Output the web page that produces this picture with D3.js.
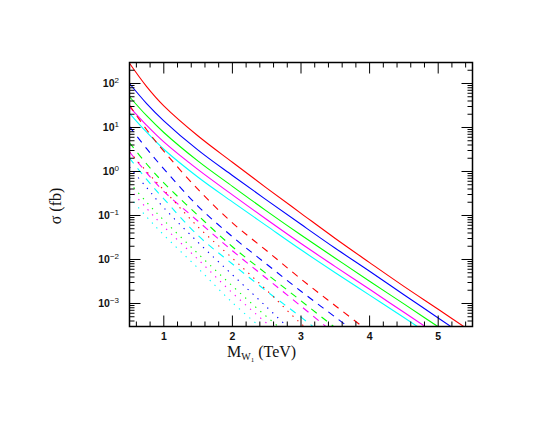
<!DOCTYPE html>
<html><head><meta charset="utf-8">
<script src="https://cdn.jsdelivr.net/npm/d3@7"></script>
<style>body{margin:0;background:#fff}</style>
</head><body>
<svg id="chart" width="554" height="428"></svg>
<script>
// ---- data ----
const massGrid = [0.5, 0.75, 1.0, 1.5, 2.0, 2.5, 3.0, 3.5, 4.0, 4.5, 5.0, 5.5];
const seriesColors = ["#ff0000", "#0000ff", "#00ff00", "#ff00ff", "#00ffff"];
// sigma (fb), one row per colour
const solidSigma = [
  [288, 85, 31, 6.4, 1.62, 0.42, 0.112, 0.030, 0.0085, 0.00245, 0.00074, 0.00022],
  [100, 35, 14.2, 3.05, 0.81, 0.224, 0.063, 0.018, 0.0054, 0.00158, 0.00047, 0.000138],
  [50, 18.5, 7.7, 1.72, 0.46, 0.126, 0.036, 0.0107, 0.0032, 0.00098, 0.000295, 0.000089],
  [29.5, 11.2, 4.7, 1.1, 0.295, 0.081, 0.023, 0.0069, 0.0021, 0.00063, 0.00019, 0.000058],
  [21, 7.8, 3.2, 0.74, 0.204, 0.058, 0.0166, 0.005, 0.00155, 0.00048, 0.000145, 0.000044]
];
const dashedSigma = [
  [32, 8.9, 2.9, 0.39, 0.068, 0.0158, 0.0036, 0.00089, 0.000224, null, null, null],
  [10.5, 3.3, 1.15, 0.162, 0.033, 0.0078, 0.0019, 0.00049, 0.000126, null, null, null],
  [4.5, 1.48, 0.55, 0.1, 0.0195, 0.0047, 0.00115, 0.00028, 0.000069, null, null, null],
  [2.8, 0.93, 0.355, 0.074, 0.0158, 0.0037, 0.00087, 0.0002, null, null, null, null],
  [2.0, 0.66, 0.24, 0.035, 0.0079, 0.0019, 0.00049, 0.000117, null, null, null, null]
];
const dottedSigma = [
  [2.8, 1.0, 0.38, 0.055, 0.0107, 0.002, 0.00035, 0.00008, null, null, null, null],
  [1.26, 0.43, 0.15, 0.0245, 0.0045, 0.00083, 0.00015, null, null, null, null, null],
  [0.56, 0.2, 0.078, 0.0135, 0.0025, 0.0005, 0.000112, null, null, null, null, null],
  [0.4, 0.145, 0.056, 0.01, 0.00174, 0.000355, 0.00008, null, null, null, null, null],
  [0.263, 0.093, 0.036, 0.0063, 0.00105, 0.00022, null, null, null, null, null, null]
];
const xMajorTicks = [1, 2, 3, 4, 5];
const yMajorExps = [2, 1, 0, -1, -2, -3];

// ---- layout ----
const svg = d3.select("#chart");
const L = 129.5, R = 472.5, T = 62.5, B = 326.5;
const x = d3.scaleLinear().domain([0.5, 5.5]).range([L, R]);
const y = d3.scaleLog().domain([3e-4, 300]).range([B, T]);

svg.append("defs").append("clipPath").attr("id", "clip")
  .append("rect").attr("x", L).attr("y", T).attr("width", R - L).attr("height", B - T);

const line = d3.line()
  .defined(d => d[1] != null)
  .x(d => x(d[0])).y(d => y(d[1]))
  .curve(d3.curveCatmullRom.alpha(0.5));

const gLines = svg.append("g").attr("clip-path", "url(#clip)");
function drawSet(set, dash) {
  set.forEach((row, i) => {
    const pts = massGrid.map((m, j) => [m, row[j]]);
    gLines.append("path").attr("d", line(pts))
      .attr("fill", "none").attr("stroke", seriesColors[i])
      .attr("stroke-width", 1.1)
      .attr("stroke-dasharray", dash);
  });
}
drawSet(solidSigma, null);
drawSet(dashedSigma, "7,6");
drawSet(dottedSigma, "1.3,5.5");

// ---- ticks ----
const gAx = svg.append("g").attr("stroke", "#000").attr("stroke-width", 1);
const xMinor = d3.range(0.6, 5.5, 0.2).filter(v => Math.abs(v - Math.round(v)) > 0.01);
xMinor.forEach(v => {
  gAx.append("line").attr("x1", x(v)).attr("x2", x(v)).attr("y1", B).attr("y2", B - 5);
  gAx.append("line").attr("x1", x(v)).attr("x2", x(v)).attr("y1", T).attr("y2", T + 5);
});
xMajorTicks.forEach(v => {
  gAx.append("line").attr("x1", x(v)).attr("x2", x(v)).attr("y1", B).attr("y2", B - 11);
  gAx.append("line").attr("x1", x(v)).attr("x2", x(v)).attr("y1", T).attr("y2", T + 11);
});
const yMinor = [];
for (let e = -4; e <= 2; e++) for (let k = 2; k <= 9; k++) {
  const v = k * Math.pow(10, e);
  if (v >= 3e-4 && v <= 300) yMinor.push(v);
}
yMinor.forEach(v => {
  gAx.append("line").attr("x1", L).attr("x2", L + 5).attr("y1", y(v)).attr("y2", y(v));
  gAx.append("line").attr("x1", R).attr("x2", R - 5).attr("y1", y(v)).attr("y2", y(v));
});
yMajorExps.forEach(e => {
  const v = Math.pow(10, e);
  gAx.append("line").attr("x1", L).attr("x2", L + 11).attr("y1", y(v)).attr("y2", y(v));
  gAx.append("line").attr("x1", R).attr("x2", R - 11).attr("y1", y(v)).attr("y2", y(v));
});
svg.append("rect").attr("x", L).attr("y", T).attr("width", R - L).attr("height", B - T)
  .attr("fill", "none").attr("stroke", "#000").attr("stroke-width", 1.5);

// ---- labels ----
const font = "Liberation Sans, Arial, sans-serif";
xMajorTicks.forEach(v => {
  svg.append("text").attr("x", x(v)).attr("y", 340).attr("text-anchor", "middle")
    .attr("font-family", font).attr("font-size", 10.5).attr("font-weight", "bold")
    .attr("fill", "#111").text(v);
});
yMajorExps.forEach(e => {
  const t = svg.append("text").attr("x", 119).attr("y", y(Math.pow(10, e)) + 4)
    .attr("text-anchor", "end").attr("font-family", font).attr("font-size", 10.5)
    .attr("font-weight", "bold").attr("fill", "#111");
  t.append("tspan").text("10");
  t.append("tspan").attr("dy", -4.5).attr("font-size", 8).attr("font-weight", "normal")
    .text(e < 0 ? "\u2212" + (-e) : String(e));
});
const serif = "Liberation Serif, Times New Roman, serif";
const xt = svg.append("text").attr("x", 227).attr("y", 357)
  .attr("font-family", serif).attr("font-size", 16).attr("fill", "#111");
xt.append("tspan").text("M");
xt.append("tspan").attr("dy", 3).attr("font-size", 10).text("W");
xt.append("tspan").attr("dy", 2).attr("font-size", 7).text("1");
xt.append("tspan").attr("dy", -5).attr("font-size", 16).text(" (TeV)");

svg.append("text").attr("transform", "translate(61,206) rotate(-90)")
  .attr("text-anchor", "middle")
  .attr("font-family", serif).attr("font-size", 16)
  .attr("fill", "#111").text("\u03C3 (fb)");
</script>
</body></html>
